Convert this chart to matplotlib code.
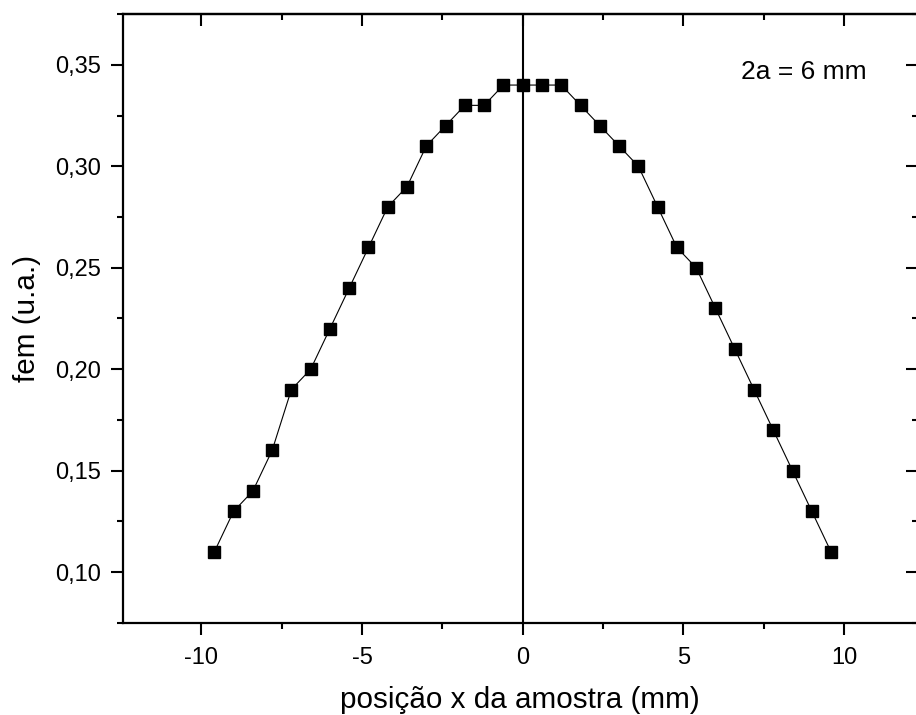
import numpy as np
import matplotlib
matplotlib.use('Agg')
import matplotlib.pyplot as plt
from matplotlib.ticker import MultipleLocator, FuncFormatter

plt.rcParams['font.family'] = ['Liberation Sans', 'DejaVu Sans']

# posição da amostra (mm) e fem medida (u.a.)
posicao = [-9.6, -9.0, -8.4, -7.8, -7.2, -6.6, -6.0, -5.4, -4.8, -4.2, -3.6,
           -3.0, -2.4, -1.8, -1.2, -0.6, 0.0, 0.6, 1.2, 1.8, 2.4, 3.0, 3.6,
           4.2, 4.8, 5.4, 6.0, 6.6, 7.2, 7.8, 8.4, 9.0, 9.6]
fem = [0.11, 0.13, 0.14, 0.16, 0.19, 0.20, 0.22, 0.24, 0.26, 0.28, 0.29,
       0.31, 0.32, 0.33, 0.33, 0.34, 0.34, 0.34, 0.34, 0.33, 0.32, 0.31, 0.30,
       0.28, 0.26, 0.25, 0.23, 0.21, 0.19, 0.17, 0.15, 0.13, 0.11]

fig = plt.figure(figsize=(9.16, 7.15), dpi=100)
ax = fig.add_axes([0.134, 0.1287, 0.868, 0.8517])

ax.plot(posicao, fem, color='black', linewidth=0.8, marker='s',
        markersize=9, markerfacecolor='black', markeredgecolor='black')
ax.axvline(0, color='black', linewidth=1.5)

ax.set_xlim(-12.45, 12.3)
ax.set_ylim(0.075, 0.375)

ax.xaxis.set_major_locator(MultipleLocator(5))
ax.xaxis.set_minor_locator(MultipleLocator(2.5))
ax.yaxis.set_major_locator(MultipleLocator(0.05))
ax.yaxis.set_minor_locator(MultipleLocator(0.025))
ax.yaxis.set_major_formatter(FuncFormatter(lambda v, p: f'{v:.2f}'.replace('.', ',')))
ax.xaxis.set_major_formatter(FuncFormatter(lambda v, p: f'{v:g}'))

for s in ax.spines.values():
    s.set_linewidth(1.6)

# ticks para fora embaixo/esquerda, para dentro em cima/direita
ax.tick_params(which='both', direction='out', width=1.5, labelsize=17,
               top=False, right=False)
ax.tick_params(which='major', length=8.5)
ax.tick_params(which='minor', length=4.3)
ax.tick_params(axis='x', pad=9)
ax.tick_params(axis='y', pad=7)

sec_x = ax.secondary_xaxis('top')
sec_x.xaxis.set_major_locator(MultipleLocator(5))
sec_x.xaxis.set_minor_locator(MultipleLocator(2.5))
sec_x.tick_params(which='both', direction='in', width=1.5, labeltop=False)
sec_x.tick_params(which='major', length=8.5)
sec_x.tick_params(which='minor', length=4.3)
sec_x.spines['top'].set_linewidth(1.6)

sec_y = ax.secondary_yaxis('right')
sec_y.yaxis.set_major_locator(MultipleLocator(0.05))
sec_y.yaxis.set_minor_locator(MultipleLocator(0.025))
sec_y.tick_params(which='both', direction='in', width=1.5, labelright=False)
sec_y.tick_params(which='major', length=8.5)
sec_y.tick_params(which='minor', length=4.3)
sec_y.spines['right'].set_linewidth(1.6)

ax.set_xlabel('posição x da amostra (mm)', fontsize=21.3, labelpad=12)
ax.set_ylabel('fem (u.a.)', fontsize=21.3, labelpad=10)

ax.text(0.7775, 0.905, '2a = 6 mm', transform=ax.transAxes, fontsize=19,
        ha='left', va='center')

fig.savefig('out.png', dpi=100)
